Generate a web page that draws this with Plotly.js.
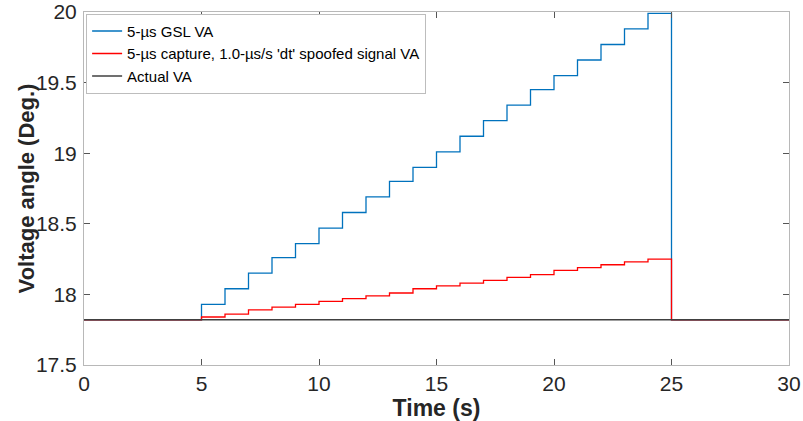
<!DOCTYPE html>
<html>
<head>
<meta charset="utf-8">
<script src="https://cdn.plot.ly/plotly-3.0.1.min.js"></script>
<style>html,body{margin:0;padding:0;background:#fff;}#chart{width:803px;height:421px;}</style>
</head>
<body>
<div id="chart"></div>
<script>
// Step times (s) and values
const stepTimes = [0, 5, 6, 7, 8, 9, 10, 11, 12, 13, 14, 15, 16, 17, 18, 19, 20, 21, 22, 23, 24, 25, 30];
const gslVA = [17.82, 17.93, 18.04, 18.15, 18.26, 18.36, 18.47, 18.58, 18.69, 18.80, 18.90, 19.01, 19.12, 19.23, 19.34, 19.45, 19.55, 19.66, 19.77, 19.88, 19.99, 17.82, 17.82];
const spoofVA = [17.82, 17.84, 17.86, 17.89, 17.91, 17.93, 17.95, 17.97, 17.99, 18.01, 18.04, 18.06, 18.08, 18.10, 18.12, 18.14, 18.17, 18.19, 18.21, 18.23, 18.25, 17.82, 17.82];
const actualTimes = [0, 30];
const actualVA = [17.82, 17.82];
const seriesNames = ["5-µs GSL VA", "5-µs capture, 1.0-µs/s 'dt' spoofed signal VA", "Actual VA"];
const xTicks = [0, 5, 10, 15, 20, 25, 30];
const yTicks = [17.5, 18, 18.5, 19, 19.5, 20];
const xTitle = 'Time (s)';
const yTitle = 'Voltage angle (Deg.)';

const FONT = 'Liberation Sans, Arial, sans-serif';

const traces = [
  {x: stepTimes, y: gslVA, name: seriesNames[0], mode: 'lines', line: {shape: 'hv', color: '#0072BD', width: 1.3}},
  {x: stepTimes, y: spoofVA, name: seriesNames[1], mode: 'lines', line: {shape: 'hv', color: '#FF0000', width: 1.3}},
  {x: actualTimes, y: actualVA, name: seriesNames[2], mode: 'lines', line: {color: '#404040', width: 1.5}}
];

const axisCommon = {
  showline: true, linecolor: '#b8b8b8', linewidth: 1, mirror: 'ticks',
  ticks: 'inside', ticklen: 6, tickwidth: 1, tickcolor: '#555',
  showgrid: false, zeroline: false,
  tickfont: {family: FONT, size: 21, color: '#262626'}
};

const layout = {
  width: 803, height: 421,
  margin: {l: 84, r: 14, t: 12, b: 56},
  paper_bgcolor: '#fff', plot_bgcolor: '#fff',
  showlegend: true,
  legend: {
    x: 0.003, y: 0.995, xanchor: 'left', yanchor: 'top',
    bgcolor: '#fff', bordercolor: '#bdbdbd', borderwidth: 1,
    font: {family: FONT, size: 15, color: '#000'},
    tracegroupgap: 0, itemwidth: 30
  },
  xaxis: Object.assign({}, axisCommon, {
    range: [0, 30], tickvals: xTicks, ticktext: xTicks.map(String),
    ticklabelstandoff: 0,
    title: {text: '<b>' + xTitle + '</b>', standoff: 0, font: {family: FONT, size: 23, color: '#262626'}}
  }),
  yaxis: Object.assign({}, axisCommon, {
    range: [17.5, 20], tickvals: yTicks, ticktext: yTicks.map(String),
    ticklabelstandoff: 2
  }),
  annotations: [{
    text: '<b>' + yTitle + '</b>', xref: 'paper', yref: 'paper',
    x: -0.081, y: 0.5, xanchor: 'center', yanchor: 'middle', textangle: -90,
    showarrow: false, font: {family: FONT, size: 22, color: '#262626'}
  }]
};

Plotly.newPlot('chart', traces, layout, {staticPlot: true, displayModeBar: false});
</script>
</body>
</html>
